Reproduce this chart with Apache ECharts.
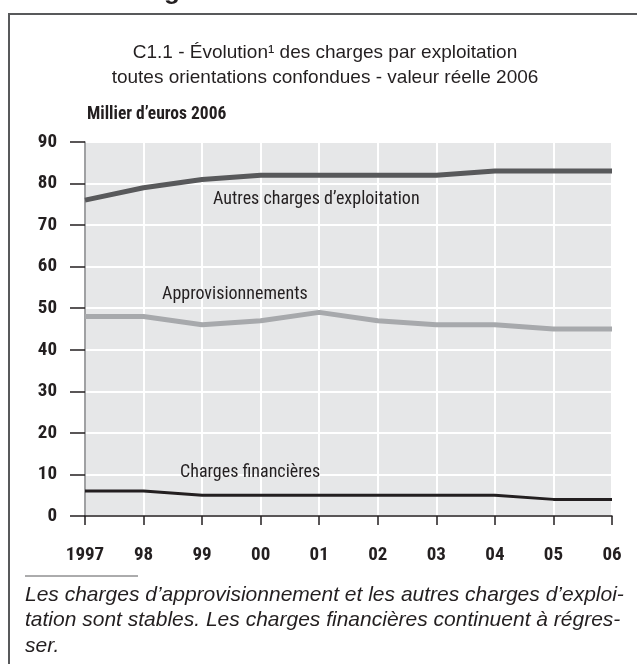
<!DOCTYPE html>
<html>
<head>
<meta charset="utf-8">
<script src="https://cdn.jsdelivr.net/npm/echarts@6/dist/echarts.min.js"></script>
<style>
  html, body { margin: 0; padding: 0; background: #fff; }
  #chart { width: 637px; height: 664px; }
</style>
</head>
<body>
<div id="chart"></div>
<script>
// années
const years = ['1997', '98', '99', '00', '01', '02', '03', '04', '05', '06']
// milliers d'euros 2006
const autresCharges = [76, 79, 81, 82, 82, 82, 82, 83, 83, 83]
const approvisionnements = [48, 48, 46, 47, 49, 47, 46, 46, 45, 45]
const chargesFinancieres = [6, 6, 5, 5, 5, 5, 5, 5, 4, 4]

const narrow = '"Roboto Condensed", "Open Sans Condensed", sans-serif'
const sans = '"Liberation Sans", Arial, sans-serif'

const chart = echarts.init(document.getElementById('chart'))

chart.setOption({
  animation: false,
  backgroundColor: '#fff',
  title: {
    text: 'C1.1 - Évolution¹ des charges par exploitation\ntoutes orientations confondues - valeur réelle 2006',
    left: 320,
    top: 35,
    textAlign: 'center',
    textStyle: { fontFamily: sans, fontWeight: 'normal', fontSize: 19, color: '#231f20', lineHeight: 25 }
  },
  grid: { left: 85, right: 25, top: 142, bottom: 148 },
  xAxis: {
    type: 'category',
    data: years,
    boundaryGap: false,
    axisLine: { lineStyle: { color: '#231f20', width: 1.5 } },
    axisTick: { show: true, length: 9, lineStyle: { color: '#231f20', width: 1.5 } },
    axisLabel: { color: '#231f20', fontFamily: narrow, fontWeight: 'bold', fontSize: 19, margin: 30 },
    splitLine: { show: true, lineStyle: { color: '#fff', width: 2 } }
  },
  yAxis: {
    type: 'value',
    min: 0,
    max: 90,
    interval: 10,
    axisLine: { show: true, lineStyle: { color: '#808285', width: 1.5 } },
    axisTick: { show: true, length: 15, lineStyle: { color: '#231f20', width: 1.5 } },
    axisLabel: { color: '#231f20', fontFamily: narrow, fontWeight: 'bold', fontSize: 19, margin: 28 },
    splitLine: { show: true, lineStyle: { color: '#fff', width: 2 } },
    splitArea: { show: true, areaStyle: { color: ['#e6e7e8', '#e6e7e8'] } }
  },
  series: [
    {
      name: 'Autres charges d\u2019exploitation',
      type: 'line',
      data: autresCharges,
      symbol: 'none',
      lineStyle: { color: '#58595b', width: 5 }
    },
    {
      name: 'Approvisionnements',
      type: 'line',
      data: approvisionnements,
      symbol: 'none',
      lineStyle: { color: '#a7a9ac', width: 5 }
    },
    {
      name: 'Charges financières',
      type: 'line',
      data: chargesFinancieres,
      symbol: 'none',
      lineStyle: { color: '#231f20', width: 3 }
    }
  ],
  graphic: [
    // cadre
    {
      type: 'polyline', z: 100,
      shape: { points: [[9, 680], [9, 14], [650, 14]] },
      style: { stroke: '#58595b', lineWidth: 2, fill: null }
    },
    // bout du titre de la page au-dessus
    {
      type: 'text', left: 164, top: -21, z: 100,
      style: { text: 'g', font: 'bold 26px ' + sans, fill: '#231f20' }
    },
    {
      type: 'text', left: 87, top: 106, z: 100,
      style: { text: 'Millier d\u2019euros 2006', font: 'bold 17.5px ' + narrow, fill: '#231f20' }
    },
    // étiquettes des courbes
    {
      type: 'text', left: 213, top: 190, z: 100,
      style: { text: 'Autres charges d\u2019exploitation', font: '18px ' + narrow, fill: '#231f20' }
    },
    {
      type: 'text', left: 162, top: 285, z: 100,
      style: { text: 'Approvisionnements', font: '18px ' + narrow, fill: '#231f20' }
    },
    {
      type: 'text', left: 180, top: 463, z: 100,
      style: { text: 'Charges financières', font: '18px ' + narrow, fill: '#231f20' }
    },
    // note
    {
      type: 'line', z: 100,
      shape: { x1: 25, y1: 576, x2: 138, y2: 576 },
      style: { stroke: '#58595b', lineWidth: 1 }
    },
    {
      type: 'text', left: 25, top: 582, z: 100,
      style: {
        text: 'Les charges d\u2019approvisionnement et les autres charges d\u2019exploi-\ntation sont stables. Les charges financières continuent à régres-\nser.',
        font: 'italic 21px ' + sans, fill: '#231f20', lineHeight: 25.5
      }
    }
  ]
})
</script>
</body>
</html>
